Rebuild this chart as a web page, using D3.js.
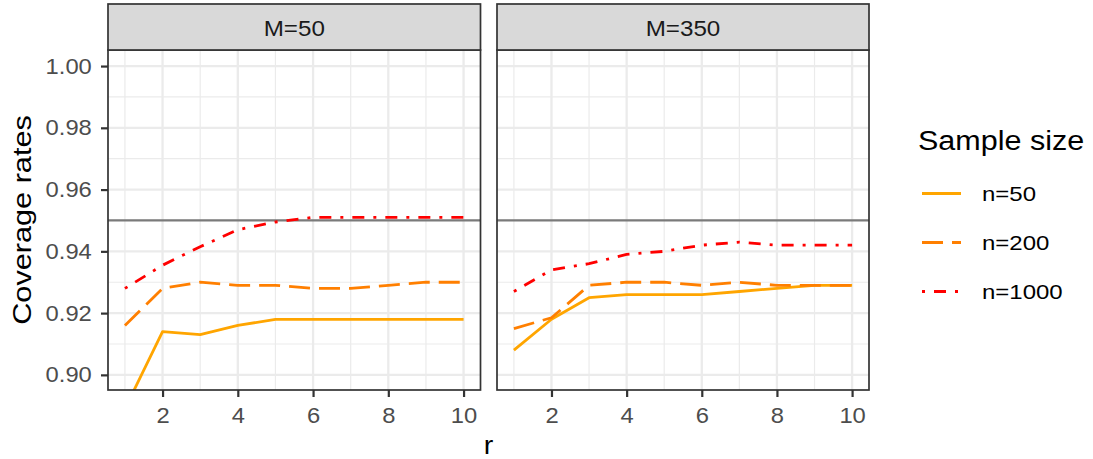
<!DOCTYPE html>
<html>
<head>
<meta charset="utf-8">
<script src="https://cdn.jsdelivr.net/npm/d3@7"></script>
<style>
  html, body { margin: 0; padding: 0; background: #fff; }
  svg { display: block; font-family: "Liberation Sans", Arial, sans-serif; }
</style>
</head>
<body>
<svg id="chart" width="1093" height="459"></svg>
<script>
// ---- data ----
const rValues = [1, 2, 3, 4, 5, 6, 7, 8, 9, 10];
const panels = ["M=50", "M=350"];
const seriesNames = ["n=50", "n=200", "n=1000"];
const m50_n50   = [0.889, 0.914, 0.913, 0.916, 0.918, 0.918, 0.918, 0.918, 0.918, 0.918];
const m50_n200  = [0.916, 0.928, 0.930, 0.929, 0.929, 0.928, 0.928, 0.929, 0.930, 0.930];
const m50_n1000 = [0.928, 0.9355, 0.9415, 0.947, 0.9495, 0.951, 0.951, 0.951, 0.951, 0.951];
const m350_n50   = [0.908, 0.918, 0.925, 0.926, 0.926, 0.926, 0.927, 0.928, 0.929, 0.929];
const m350_n200  = [0.915, 0.9185, 0.929, 0.930, 0.930, 0.929, 0.930, 0.929, 0.929, 0.929];
const m350_n1000 = [0.927, 0.934, 0.936, 0.939, 0.940, 0.942, 0.943, 0.942, 0.942, 0.942];
const referenceLevel = 0.95;
const yTicks = [0.90, 0.92, 0.94, 0.96, 0.98, 1.00];
const yMinor = [0.91, 0.93, 0.95, 0.97, 0.99];
const xTicks = [2, 4, 6, 8, 10];
const xMinor = [1, 3, 5, 7, 9];

const panelData = [
  [m50_n50, m50_n200, m50_n1000],
  [m350_n50, m350_n200, m350_n1000]
];

// ---- styles ----
const colors = ["#FFA500", "#FF7F00", "#FF0000"];
const dashes = [null, "21 9", "3 9 12 9"];
const STRETCH = 1.08;

const svg = d3.select("#chart");
const panelX = [[108, 480.5], [497, 869]];
const stripTop = 4, panelTop = 50, panelBottom = 390;

const y = d3.scaleLinear().domain([0.8951, 1.0052]).range([panelBottom, panelTop]);

const defs = svg.append("defs");

panels.forEach((name, pi) => {
  const [x0, x1] = panelX[pi];
  const x = d3.scaleLinear().domain([0.55, 10.45]).range([x0, x1]);
  const g = svg.append("g");

  defs.append("clipPath").attr("id", "clip" + pi)
    .append("rect").attr("x", x0).attr("y", panelTop).attr("width", x1 - x0).attr("height", panelBottom - panelTop);

  // grid
  const grid = g.append("g");
  grid.selectAll(".ymin").data(yMinor).join("line")
    .attr("x1", x0).attr("x2", x1).attr("y1", d => y(d)).attr("y2", d => y(d))
    .attr("stroke", "#EBEBEB").attr("stroke-width", 1.2);
  grid.selectAll(".xmin").data(xMinor).join("line")
    .attr("y1", panelTop).attr("y2", panelBottom).attr("x1", d => x(d)).attr("x2", d => x(d))
    .attr("stroke", "#EBEBEB").attr("stroke-width", 1.2);
  grid.selectAll(".ymaj").data(yTicks).join("line")
    .attr("x1", x0).attr("x2", x1).attr("y1", d => y(d)).attr("y2", d => y(d))
    .attr("stroke", "#EBEBEB").attr("stroke-width", 2.3);
  grid.selectAll(".xmaj").data(xTicks).join("line")
    .attr("y1", panelTop).attr("y2", panelBottom).attr("x1", d => x(d)).attr("x2", d => x(d))
    .attr("stroke", "#EBEBEB").attr("stroke-width", 2.3);

  // reference line
  g.append("line")
    .attr("x1", x0).attr("x2", x1).attr("y1", y(referenceLevel)).attr("y2", y(referenceLevel))
    .attr("stroke", "#7A7A7A").attr("stroke-width", 2.2);

  // series
  const line = d3.line().x((d, i) => x(rValues[i])).y(d => y(d));
  const lg = g.append("g").attr("clip-path", `url(#clip${pi})`);
  panelData[pi].forEach((vals, si) => {
    lg.append("path").datum(vals)
      .attr("d", line)
      .attr("fill", "none")
      .attr("stroke", colors[si])
      .attr("stroke-width", 2.8)
      .attr("stroke-dasharray", dashes[si])
      .attr("stroke-linecap", "butt")
      .attr("stroke-linejoin", "round");
  });

  // border
  g.append("rect").attr("x", x0).attr("y", panelTop).attr("width", x1 - x0).attr("height", panelBottom - panelTop)
    .attr("fill", "none").attr("stroke", "#333333").attr("stroke-width", 1.7);

  // strip
  g.append("rect").attr("x", x0).attr("y", stripTop).attr("width", x1 - x0).attr("height", panelTop - stripTop)
    .attr("fill", "#D9D9D9").attr("stroke", "#333333").attr("stroke-width", 1.7);
  g.append("text")
    .attr("transform", `translate(${(x0 + x1) / 2},36) scale(1.1,1)`)
    .attr("text-anchor", "middle")
    .attr("font-size", 22).attr("fill", "#1A1A1A")
    .text(name);

  // x axis
  const xa = svg.append("g").attr("transform", `translate(0,${panelBottom})`)
    .call(d3.axisBottom(x).tickValues(xTicks).tickSize(7).tickPadding(10).tickFormat(d3.format("d")));
  xa.select(".domain").remove();
  xa.selectAll(".tick line").attr("stroke", "#333333").attr("stroke-width", 2.2);
  xa.selectAll(".tick text").attr("font-size", 22).attr("fill", "#4D4D4D")
    .attr("font-family", "Liberation Sans, Arial, sans-serif")
    .attr("transform", `scale(${STRETCH},1)`);

  if (pi === 0) {
    const ya = svg.append("g").attr("transform", `translate(${x0},0)`)
      .call(d3.axisLeft(y).tickValues(yTicks).tickSize(7).tickPadding(8).tickFormat(d3.format(".2f")));
    ya.select(".domain").remove();
    ya.selectAll(".tick line").attr("stroke", "#333333").attr("stroke-width", 2.2);
    ya.selectAll(".tick text").attr("font-size", 22).attr("fill", "#4D4D4D")
      .attr("font-family", "Liberation Sans, Arial, sans-serif")
      .attr("transform", `scale(${STRETCH},1)`);
  }
});

// axis titles
svg.append("text")
  .attr("transform", `translate(31,${(panelTop + panelBottom) / 2}) rotate(-90) scale(1.18,1)`)
  .attr("text-anchor", "middle").attr("font-size", 26).attr("fill", "#000")
  .text("Coverage rates");
svg.append("text")
  .attr("transform", `translate(${(panelX[0][0] + panelX[1][1]) / 2},454) scale(1.1,1)`)
  .attr("text-anchor", "middle").attr("font-size", 26).attr("fill", "#000")
  .text("r");

// legend
const leg = svg.append("g");
leg.append("text")
  .attr("transform", `translate(918,150) scale(1.09,1)`)
  .attr("font-size", 28).attr("fill", "#000")
  .text("Sample size");
const keyY = [193.5, 242.5, 291.5];
seriesNames.forEach((s, i) => {
  leg.append("line")
    .attr("x1", 922).attr("x2", 961).attr("y1", keyY[i]).attr("y2", keyY[i])
    .attr("stroke", colors[i]).attr("stroke-width", 2.8)
    .attr("stroke-dasharray", dashes[i]);
  leg.append("text")
    .attr("transform", `translate(982,${keyY[i] + 7.5}) scale(1.2,1)`)
    .attr("font-size", 20).attr("fill", "#000")
    .text(s);
});
</script>
</body>
</html>
